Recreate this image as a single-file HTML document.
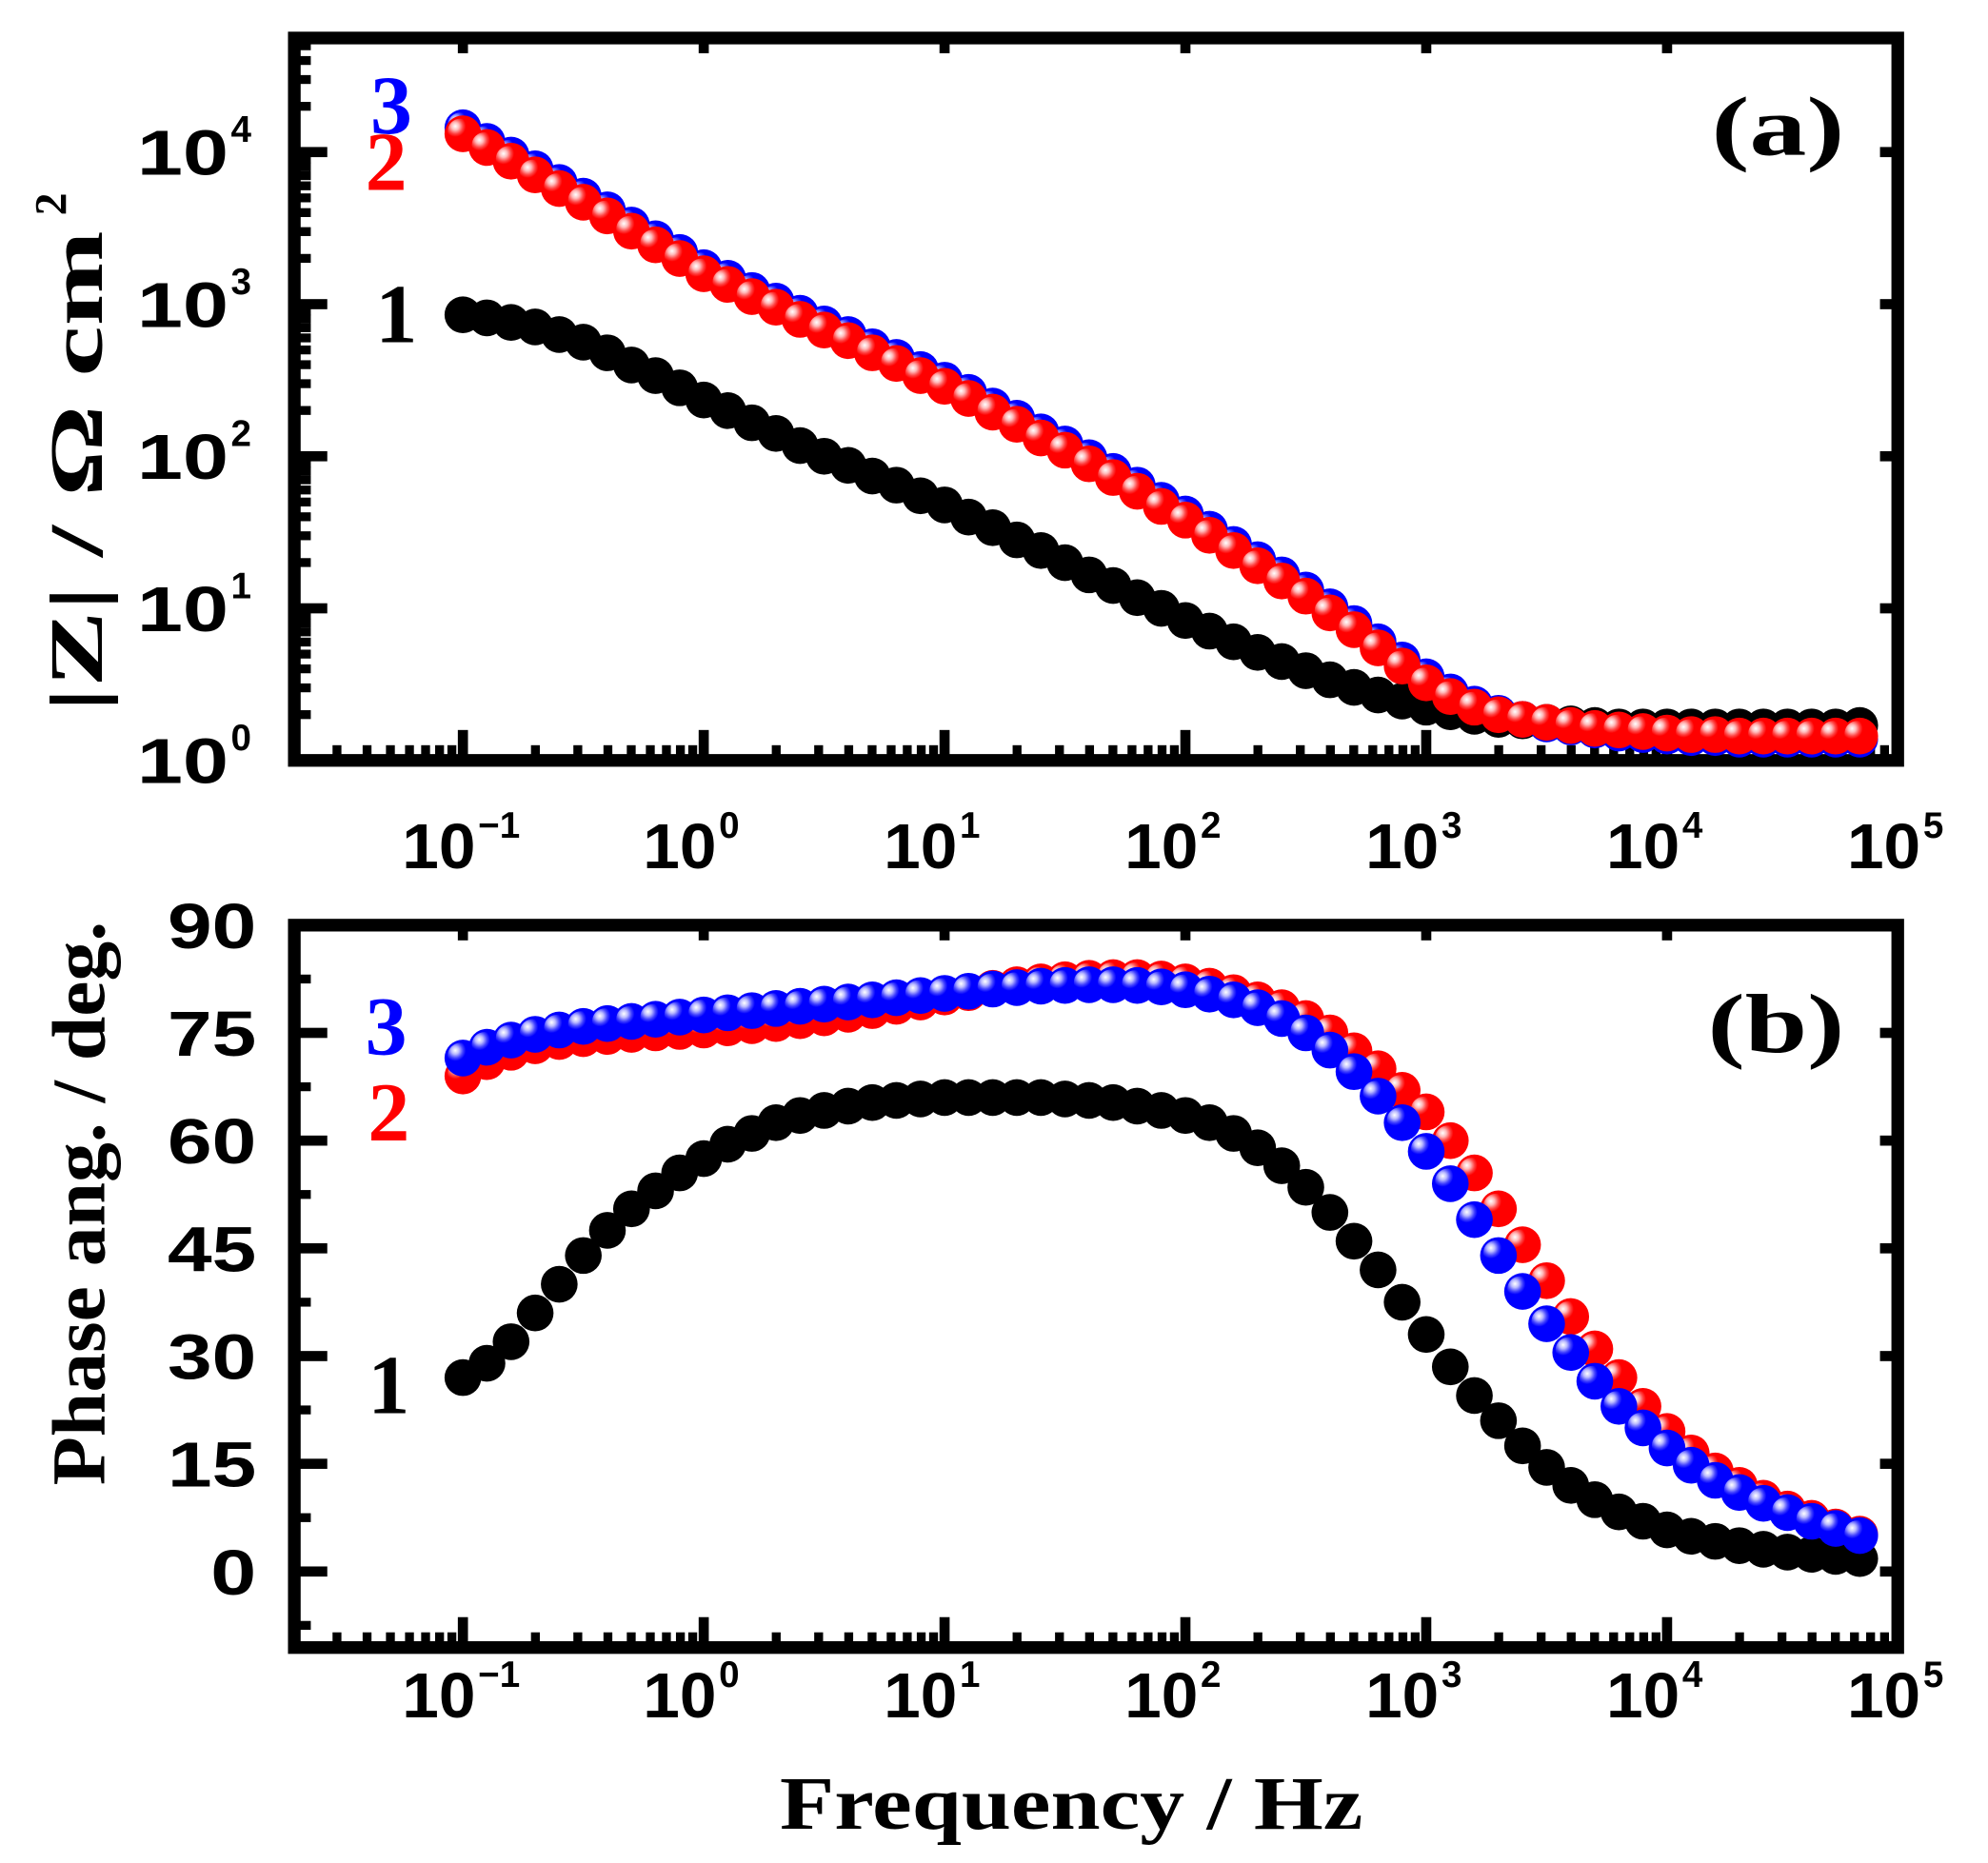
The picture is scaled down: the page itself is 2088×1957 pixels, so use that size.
<!DOCTYPE html>
<html><head><meta charset="utf-8"><style>
html,body{margin:0;padding:0;background:#fff}
svg{display:block}
.tk{font-family:"Liberation Sans",sans-serif;font-weight:bold;font-size:50px;fill:#000}
.sp{font-family:"Liberation Sans",sans-serif;font-weight:bold;font-size:29px;fill:#000}
.tt{font-family:"Liberation Serif",serif;font-weight:bold;font-size:60px;fill:#000}
.cl{font-family:"Liberation Serif",serif;font-weight:bold;font-size:66px}
</style></head><body>
<svg id="fig" width="2088" height="1957" viewBox="0 0 1568 1470" xmlns="http://www.w3.org/2000/svg">
<defs>
<radialGradient id="gr" cx="0.3" cy="0.3" r="0.6"><stop offset="0" stop-color="#fff"/><stop offset="0.25" stop-color="#fbb"/><stop offset="0.5" stop-color="#f44"/><stop offset="0.7" stop-color="#f00"/></radialGradient>
<radialGradient id="gb" cx="0.3" cy="0.3" r="0.6"><stop offset="0" stop-color="#fff"/><stop offset="0.25" stop-color="#bbf"/><stop offset="0.5" stop-color="#44f"/><stop offset="0.7" stop-color="#00f"/></radialGradient>
</defs>
<g id="layer"></g>
</svg>
<script>
const logF=[];for(let i=0;i<59;i++)logF.push(-1+i*0.1);
const zBlack=[2.93,2.91,2.88,2.85,2.80,2.75,2.68,2.60,2.53,2.45,2.37,2.30,2.22,2.15,2.07,2.00,1.94,1.87,1.81,1.74,1.68,1.60,1.53,1.45,1.38,1.30,1.22,1.15,1.07,1.00,0.92,0.85,0.78,0.71,0.65,0.59,0.53,0.48,0.43,0.39,0.35,0.32,0.29,0.27,0.26,0.25,0.24,0.23,0.22,0.22,0.22,0.22,0.22,0.22,0.22,0.22,0.22,0.22,0.23];
const zRed=[4.12,4.03,3.94,3.85,3.76,3.67,3.58,3.48,3.39,3.30,3.20,3.13,3.05,2.98,2.90,2.83,2.76,2.68,2.61,2.53,2.46,2.38,2.29,2.21,2.12,2.04,1.95,1.86,1.77,1.67,1.58,1.48,1.38,1.28,1.18,1.08,0.97,0.86,0.74,0.62,0.51,0.42,0.35,0.30,0.27,0.25,0.23,0.21,0.20,0.19,0.18,0.17,0.17,0.16,0.16,0.16,0.16,0.16,0.16];
const zBlue=[4.16,4.07,3.98,3.89,3.80,3.71,3.62,3.52,3.43,3.34,3.24,3.17,3.09,3.02,2.94,2.87,2.80,2.72,2.65,2.57,2.50,2.42,2.33,2.25,2.16,2.08,1.99,1.90,1.81,1.71,1.62,1.52,1.42,1.32,1.22,1.12,1.01,0.90,0.78,0.66,0.55,0.45,0.37,0.31,0.27,0.24,0.22,0.20,0.18,0.17,0.16,0.15,0.15,0.14,0.14,0.14,0.14,0.14,0.14];
const phBlack=[27,29,32,36,40,44,47.5,50.5,53,55.5,57.5,59.5,61,62.5,63.5,64.2,64.8,65.3,65.6,65.8,66,66,66,66,66,65.8,65.6,65.3,64.8,64.2,63.5,62.5,61,59,56.5,53.5,50,46,42,37.5,33,28.5,24.5,21,17.5,14.5,12,10,8.3,7,5.8,4.9,4.2,3.6,3.1,2.7,2.4,2.1,1.8];
const phRed=[69,71,72.3,73.2,73.8,74.2,74.5,74.8,75,75.2,75.4,75.7,76,76.3,76.7,77.1,77.6,78.1,78.7,79.3,80,80.6,81.2,81.7,82.1,82.4,82.6,82.7,82.7,82.5,82.1,81.5,80.6,79.6,78.5,77,75,72.5,70,67,64,60,55.5,50.5,45.5,40.5,35.5,31,27,23,19.5,16.5,14,12,10.2,8.7,7.4,6.2,5.2];
const phBlue=[71.5,73,74,74.8,75.4,75.9,76.3,76.6,76.9,77.2,77.5,77.8,78.1,78.4,78.7,79,79.3,79.6,79.9,80.2,80.5,80.8,81.1,81.3,81.5,81.6,81.7,81.7,81.6,81.4,81,80.4,79.6,78.5,77,75,72.6,69.6,66.2,62.5,58.5,54,49,44,39,34.5,30.5,26.5,23,20,17.2,14.8,12.7,11,9.5,8.2,7,6,5];
const xDecades=[-1,0,1,2,3,4,5];
const zDecades=[0,1,2,3,4];
const phTicks=[0,15,30,45,60,75,90];

const NS="http://www.w3.org/2000/svg";
const L=document.getElementById('layer');
function mk(t,a,p){const e=document.createElementNS(NS,t);for(const k in a)e.setAttribute(k,a[k]);(p||L).appendChild(e);return e;}
const X0=232,X1=1497;
const xs=v=>365+(v+1)*190;
const yZ=v=>600-v*120;
const yP=v=>1240-v*510/90;

function frame(top,bot,nm){
  const r=mk('rect',{x:X0,y:top,width:X1-X0,height:bot-top,fill:'none',stroke:'#000','stroke-width':10});
  
  
}
frame(30,600,'plot-frame-a');
frame(730,1300,'plot-frame-b');

function xAxis(top,bot,base,nm){
  const g=mk('g',{});
  
  
  xDecades.forEach(d=>{
    const x=xs(d);
    if(x<X1-5){mk('rect',{x:x-4,y:bot-24,width:8,height:24,fill:'#000'},g);mk('rect',{x:x-4,y:top,width:8,height:12,fill:'#000'},g);}
    for(let m=2;m<10;m++){const xm=xs(d+Math.log10(m));if(xm>X0&&xm<X1-5)mk('rect',{x:xm-3.5,y:bot-12,width:7,height:12,fill:'#000'},g);}
    const t=mk('text',{x:x+10,y:base,'text-anchor':'end',class:'tk',textLength:58,lengthAdjust:'spacingAndGlyphs'},g);t.textContent='10';
    const s=mk('text',{x:x+12,y:base-24,class:'sp'},g);s.textContent=String(d).replace('-','\u2212');
  });
  for(let m=2;m<10;m++){const xm=xs(-2+Math.log10(m));if(xm>X0+8)mk('rect',{x:xm-3.5,y:bot-12,width:7,height:12,fill:'#000'},g);}
}
xAxis(30,600,685,'x-axis-a');
xAxis(730,1300,1355,'x-axis-b');

(function(){const g=mk('g',{});


zDecades.forEach(d=>{const y=yZ(d);
 mk('rect',{x:X0,y:y-4,width:26,height:8,fill:'#000'},g);
 mk('rect',{x:X1-14,y:y-4,width:14,height:8,fill:'#000'},g);
 for(let m=2;m<10;m++){const ym=yZ(d+Math.log10(m));if(ym>35)mk('rect',{x:X0,y:ym-3.5,width:13,height:7,fill:'#000'},g);}
 const t=mk('text',{x:180,y:y+18,'text-anchor':'end',class:'tk',textLength:72,lengthAdjust:'spacingAndGlyphs'},g);t.textContent='10';
 const s=mk('text',{x:182,y:y-8,class:'sp'},g);s.textContent=String(d);
});})();
(function(){const g=mk('g',{});


phTicks.forEach(v=>{const y=yP(v);
 mk('rect',{x:X0,y:y-4,width:26,height:8,fill:'#000'},g);
 mk('rect',{x:X1-14,y:y-4,width:14,height:8,fill:'#000'},g);
 const ym=yP(v+7.5);if(v<90)mk('rect',{x:X0,y:ym-3.5,width:13,height:7,fill:'#000'},g);
 const t=mk('text',{x:202,y:y+18,'text-anchor':'end',class:'tk',textLength:v?70:36,lengthAdjust:'spacingAndGlyphs'},g);t.textContent=String(v);
});
mk('rect',{x:X0,y:yP(-7.5)-3.5,width:13,height:7,fill:'#000'},g);
})();

function series(ys,fn,fill,hl,nm){
  const g=mk('g',{});
  
  
  logF.forEach((f,i)=>{
    const c=mk('circle',{cx:xs(f),cy:fn(ys[i]),r:14.5,fill:fill},g);
    
    
    if(hl)mk('circle',{cx:xs(f)-2,cy:fn(ys[i])-2,r:10,fill:hl},g);
  });
}
series(zBlack,yZ,'#000',null,'series-1-impedance');
series(zBlue,yZ,'#00f','url(#gb)','series-3-impedance');
series(zRed,yZ,'#f00','url(#gr)','series-2-impedance');
series(phBlack,yP,'#000',null,'series-1-phase');
series(phRed,yP,'#f00','url(#gr)','series-2-phase');
series(phBlue,yP,'#00f','url(#gb)','series-3-phase');

function txt(x,y,s,cls,fill,nm,extra){const t=mk('text',Object.assign({x:x,y:y,class:cls,fill:fill},extra||{}));t.textContent=s;

return t;}
txt(292,105,'3','cl','#00f','label-3-a');
txt(288,150,'2','cl','#f00','label-2-a');
txt(296,270,'1','cl','#000','label-1-a');
txt(288,832,'3','cl','#00f','label-3-b');
txt(290,900,'2','cl','#f00','label-2-b');
txt(290,1115,'1','cl','#000','label-1-b');
txt(1350,122,'(a)','tt','#000','panel-label-a',{style:'font-size:66px',textLength:105,lengthAdjust:'spacingAndGlyphs'});
txt(1347,830,'(b)','tt','#000','panel-label-b',{style:'font-size:66px',textLength:108,lengthAdjust:'spacingAndGlyphs'});
txt(615,1443,'Frequency / Hz','tt','#000','x-axis-title',{textLength:460,lengthAdjust:'spacingAndGlyphs'});
txt(0,0,'|Z| / \u03A9 cm','tt','#000','y-axis-title-a',{textLength:380,lengthAdjust:'spacingAndGlyphs',transform:'translate(80,562) rotate(-90)'});
txt(0,0,'2','tt','#000','y-axis-title-a-sup',{style:'font-size:36px',transform:'translate(52,170) rotate(-90)'});
txt(0,0,'Phase ang. / deg.','tt','#000','y-axis-title-b',{textLength:445,lengthAdjust:'spacingAndGlyphs',transform:'translate(82,1172) rotate(-90)'});
</script>
</body></html>
